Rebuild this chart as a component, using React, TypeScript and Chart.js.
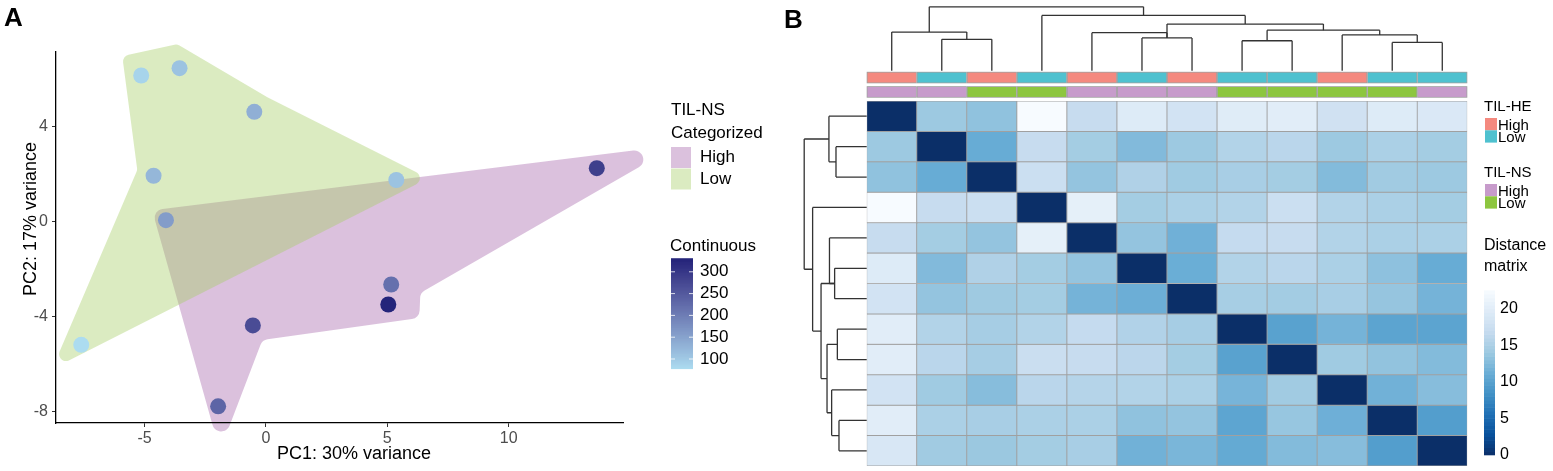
import React, { useEffect, useRef } from "react";
import { Chart, registerables } from "chart.js";
Chart.register(...registerables);

const FONT = "'Liberation Sans', Arial, Helvetica, sans-serif";

// ---------------- Panel A data ----------------
const PC1 = [-5.14, -3.56, -0.48, -4.63, 5.37, -4.12, 5.16, 5.04, -0.54, -7.61, -1.97, 13.63];
const PC2 = [6.13, 6.44, 4.6, 1.91, 1.73, 0.04, -2.67, -3.51, -4.39, -5.21, -7.8, 2.23];
const TIL_CONT = [88, 110, 135, 125, 110, 160, 220, 330, 270, 78, 235, 290];
const X_TICKS = [-5, 0, 5, 10];
const Y_TICKS = [-8, -4, 0, 4];
const CONT_TICKS = [100, 150, 200, 250, 300];
const CATEGORIES = ["High", "Low"];
const HULL_HIGH_X = [-4.69, 16.95, 6.36, 6.32, -0.15, -1.9];
const HULL_HIGH_Y = [0.46, 3.2, -3.03, -4.08, -5.01, -9.68];
const HULL_LOW_X = [-5.92, -3.66, 0.05, 6.69, -8.81, -5.3];
const HULL_LOW_Y = [6.95, 7.45, 5.22, 1.81, -6.23, 2.15];

// ---------------- Panel B data ----------------
const SAMPLES = ["S1", "S2", "S3", "S4", "S5", "S6", "S7", "S8", "S9", "S10", "S11", "S12"];
const TIL_HE = ["High", "Low", "High", "Low", "High", "Low", "High", "Low", "Low", "High", "Low", "Low"];
const TIL_NS = ["High", "High", "Low", "Low", "High", "High", "High", "Low", "Low", "Low", "Low", "High"];
const DISTANCE = [
  [0, 14, 13.3, 22.5, 17, 19.6, 18.3, 19.8, 20, 18, 19.6, 19.2],
  [14, 0, 11, 17, 14.5, 12.5, 14, 15.5, 16, 14, 15, 14.5],
  [13.3, 11, 0, 17.5, 13.5, 15.3, 14.2, 14.8, 14.5, 12.6, 14.3, 14],
  [22.5, 17, 17.5, 0, 20.5, 14.5, 15, 15.5, 17.5, 15.5, 15, 14.5],
  [17, 14.5, 13.5, 20.5, 0, 13.5, 11.5, 16.8, 17, 15.5, 15, 15],
  [19.6, 12.5, 15.3, 14.5, 13.5, 0, 11.2, 15.5, 16, 15, 13.2, 11],
  [18.3, 13.5, 14.1, 14.5, 11.8, 11.3, 0, 14.7, 14.4, 14.8, 13.6, 11.8],
  [20, 15.5, 14.6, 15.5, 16.8, 15.4, 14.6, 0, 10, 11.8, 10.2, 10.2],
  [20, 16, 14.6, 17.4, 17, 16.1, 14.5, 10, 0, 14.2, 13.4, 12.6],
  [18.3, 14.2, 12.8, 16, 15.7, 15.5, 15, 11.9, 14.3, 0, 11.6, 12.8],
  [20, 15, 14.8, 15, 15, 13.3, 13.5, 10.3, 13.7, 11.4, 0, 9.6],
  [19, 14.3, 13.9, 14.5, 14.8, 11.6, 12.1, 10.8, 12.6, 12.8, 9.6, 0],
];
// hclust-style merges: negative = leaf (1-based), positive = earlier merge (1-based)
const MERGE_LEFT = [-2, -1, -6, -5, -8, -11, -10, 5, 3, -4, 2];
const MERGE_RIGHT = [-3, 1, -7, 3, -9, -12, 6, 7, 8, 9, 10];
const MERGE_HEIGHT = [11.3, 13.9, 11.8, 13.7, 10.8, 10.2, 12.9, 14.6, 16.8, 19.9, 23.0];
const DIST_TICKS = [0, 5, 10, 15, 20];
const DIST_MAX = 22.5;

// ---------------- colours ----------------
const BLUES = ["#0B2F68", "#08519C", "#2171B5", "#4292C6", "#6BAED6", "#9ECAE1", "#C6DBEF", "#DEEBF7", "#F7FBFF"];
const HE_COLORS: Record<string, string> = { High: "#F4897F", Low: "#4FC1CF" };
const NS_COLORS: Record<string, string> = { High: "#C79BCB", Low: "#8DC63F" };
const HULL_COLORS: Record<string, string> = { High: "rgba(165,100,170,0.4)", Low: "rgba(165,205,100,0.4)" };
const CONT_LOW = [172, 220, 240];
const CONT_HIGH = [36, 36, 122];

function hexToRgb(h: string) {
  const n = parseInt(h.slice(1), 16);
  return [(n >> 16) & 255, (n >> 8) & 255, n & 255];
}
function distColor(v: number) {
  const t = Math.max(0, Math.min(1, v / DIST_MAX)) * (BLUES.length - 1);
  const i = Math.min(BLUES.length - 2, Math.floor(t));
  const f = t - i;
  const a = hexToRgb(BLUES[i]);
  const b = hexToRgb(BLUES[i + 1]);
  const c = a.map((x, k) => Math.round(x + (b[k] - x) * f));
  return `rgb(${c[0]},${c[1]},${c[2]})`;
}
function s2l(c: number) {
  c /= 255;
  return c <= 0.04045 ? c / 12.92 : Math.pow((c + 0.055) / 1.055, 2.4);
}
function l2s(c: number) {
  const v = c <= 0.0031308 ? 12.92 * c : 1.055 * Math.pow(c, 1 / 2.4) - 0.055;
  return Math.round(Math.max(0, Math.min(1, v)) * 255);
}
function rgb2lab(rgb: number[]) {
  const R = s2l(rgb[0]), G = s2l(rgb[1]), B = s2l(rgb[2]);
  const X = (0.4124 * R + 0.3576 * G + 0.1805 * B) / 0.95047;
  const Y = 0.2126 * R + 0.7152 * G + 0.0722 * B;
  const Z = (0.0193 * R + 0.1192 * G + 0.9505 * B) / 1.08883;
  const f = (t: number) => (t > 0.008856 ? Math.cbrt(t) : 7.787 * t + 16 / 116);
  return [116 * f(Y) - 16, 500 * (f(X) - f(Y)), 200 * (f(Y) - f(Z))];
}
function lab2rgb(lab: number[]) {
  const fy = (lab[0] + 16) / 116, fx = fy + lab[1] / 500, fz = fy - lab[2] / 200;
  const fi = (t: number) => (t * t * t > 0.008856 ? t * t * t : (t - 16 / 116) / 7.787);
  const X = fi(fx) * 0.95047, Y = fi(fy), Z = fi(fz) * 1.08883;
  const R = 3.2406 * X - 1.5372 * Y - 0.4986 * Z;
  const G = -0.9689 * X + 1.8758 * Y + 0.0415 * Z;
  const B = 0.0557 * X - 0.204 * Y + 1.057 * Z;
  return [l2s(R), l2s(G), l2s(B)];
}
const CONT_MIN = Math.min(...TIL_CONT);
const CONT_MAX = Math.max(...TIL_CONT);
function contColor(v: number) {
  const t = (v - CONT_MIN) / (CONT_MAX - CONT_MIN);
  const a = rgb2lab(CONT_LOW), b = rgb2lab(CONT_HIGH);
  const c = lab2rgb(a.map((x, k) => x + (b[k] - x) * t));
  return `rgb(${c[0]},${c[1]},${c[2]})`;
}

// ---------------- helpers ----------------
function drawHull(ctx: CanvasRenderingContext2D, xs: number[], ys: number[], sx: any, sy: any, color: string, r: number) {
  const pts = xs.map((v, i) => ({ x: sx.getPixelForValue(v), y: sy.getPixelForValue(ys[i]) }));
  const n = pts.length;
  const mid = (a: any, b: any) => ({ x: (a.x + b.x) / 2, y: (a.y + b.y) / 2 });
  const s = mid(pts[n - 1], pts[0]);
  ctx.save();
  ctx.beginPath();
  ctx.moveTo(s.x, s.y);
  for (let i = 0; i < n; i++) {
    const p = pts[i];
    const m = mid(p, pts[(i + 1) % n]);
    ctx.arcTo(p.x, p.y, m.x, m.y, r);
  }
  ctx.closePath();
  ctx.fillStyle = color;
  ctx.fill();
  ctx.restore();
}

function dendroSegments(leafPos: (i: number) => number) {
  const pos: number[] = [];
  const segs: { kids: { p: number; h: number }[]; h: number }[] = [];
  for (let m = 0; m < MERGE_LEFT.length; m++) {
    const kids = [MERGE_LEFT[m], MERGE_RIGHT[m]].map((c) =>
      c < 0 ? { p: leafPos(-c - 1), h: 0 } : { p: pos[c - 1], h: MERGE_HEIGHT[c - 1] }
    );
    pos[m] = (kids[0].p + kids[1].p) / 2;
    segs.push({ kids, h: MERGE_HEIGHT[m] });
  }
  return segs;
}

const panelAPlugin = {
  id: "panelA",
  beforeDraw(chart: any) {
    const { ctx, scales } = chart;
    drawHull(ctx, HULL_HIGH_X, HULL_HIGH_Y, scales.x, scales.y, HULL_COLORS.High, 9);
    drawHull(ctx, HULL_LOW_X, HULL_LOW_Y, scales.x, scales.y, HULL_COLORS.Low, 7);
  },
  afterDraw(chart: any) {
    const ctx: CanvasRenderingContext2D = chart.ctx;
    ctx.save();
    ctx.fillStyle = "#000";
    ctx.textBaseline = "middle";
    // axis titles
    ctx.font = `18px ${FONT}`;
    ctx.textAlign = "center";
    ctx.fillText("PC1: 30% variance", 354, 454);
    ctx.save();
    ctx.translate(31, 219);
    ctx.rotate(-Math.PI / 2);
    ctx.fillText("PC2: 17% variance", 0, 0);
    ctx.restore();
    // panel label
    ctx.font = `bold 26px ${FONT}`;
    ctx.textAlign = "left";
    ctx.textBaseline = "alphabetic";
    ctx.fillText("A", 4, 26);
    // categorical legend
    ctx.textBaseline = "middle";
    ctx.font = `17px ${FONT}`;
    ctx.fillText("TIL-NS", 671, 110);
    ctx.fillText("Categorized", 671, 133);
    CATEGORIES.forEach((c, i) => {
      const top = 147 + i * 21.5;
      ctx.fillStyle = HULL_COLORS[c];
      ctx.fillRect(671, top, 20, 21);
      ctx.fillStyle = "#000";
      ctx.fillText(c, 700, top + 10.5);
    });
    // continuous legend
    ctx.fillText("Continuous", 670, 246);
    const yOf = (v: number) => 359 - (v - 100) * 0.436;
    const y0 = yOf(CONT_MIN), y1 = yOf(CONT_MAX);
    const steps = 80;
    for (let k = 0; k < steps; k++) {
      const v = CONT_MIN + ((CONT_MAX - CONT_MIN) * (k + 0.5)) / steps;
      const ya = y0 + ((y1 - y0) * k) / steps;
      const yb = y0 + ((y1 - y0) * (k + 1)) / steps;
      ctx.fillStyle = contColor(v);
      ctx.fillRect(671, Math.min(ya, yb) - 0.5, 22, Math.abs(yb - ya) + 1);
    }
    ctx.strokeStyle = "rgba(255,255,255,0.8)";
    ctx.lineWidth = 1;
    CONT_TICKS.forEach((t) => {
      const yy = yOf(t);
      ctx.beginPath();
      ctx.moveTo(671, yy);
      ctx.lineTo(675, yy);
      ctx.moveTo(689, yy);
      ctx.lineTo(693, yy);
      ctx.stroke();
      ctx.fillStyle = "#000";
      ctx.fillText(String(t), 700, yy);
    });
    ctx.restore();
  },
};

const panelBPlugin = {
  id: "panelB",
  afterDraw(chart: any) {
    const ctx: CanvasRenderingContext2D = chart.ctx;
    const { chartArea, scales } = chart;
    const xs = scales.x, ys = scales.y;
    const cw = xs.getPixelForValue(1) - xs.getPixelForValue(0);
    ctx.save();
    // annotation rows
    const annH = 11.5;
    const ann2Top = chartArea.top - 3.3 - annH;
    const ann1Top = ann2Top - 2.9 - annH;
    SAMPLES.forEach((_, i) => {
      const cx = xs.getPixelForValue(i);
      [[ann1Top, HE_COLORS[TIL_HE[i]]], [ann2Top, NS_COLORS[TIL_NS[i]]]].forEach(([top, col]: any) => {
        ctx.fillStyle = "#a0a0a0";
        ctx.fillRect(cx - cw / 2, top, cw, annH);
        ctx.fillStyle = col;
        ctx.fillRect(cx - cw / 2 + 0.8, top + 0.8, cw - 1.6, annH - 1.6);
      });
    });
    // dendrograms
    const maxH = Math.max(...MERGE_HEIGHT);
    ctx.strokeStyle = "#333";
    ctx.lineWidth = 1.3;
    const colBase = ann1Top - 1;
    const kc = 64 / maxH;
    dendroSegments((i) => xs.getPixelForValue(i)).forEach((s) => {
      const yy = colBase - s.h * kc;
      ctx.beginPath();
      s.kids.forEach((k) => {
        ctx.moveTo(k.p, colBase - k.h * kc);
        ctx.lineTo(k.p, yy);
      });
      ctx.moveTo(s.kids[0].p, yy);
      ctx.lineTo(s.kids[1].p, yy);
      ctx.stroke();
    });
    const rowBase = chartArea.left;
    const kr = 62.5 / maxH;
    dendroSegments((i) => ys.getPixelForValue(i + 0.5)).forEach((s) => {
      const xx = rowBase - s.h * kr;
      ctx.beginPath();
      s.kids.forEach((k) => {
        ctx.moveTo(rowBase - k.h * kr, k.p);
        ctx.lineTo(xx, k.p);
      });
      ctx.moveTo(xx, s.kids[0].p);
      ctx.lineTo(xx, s.kids[1].p);
      ctx.stroke();
    });
    // panel label
    ctx.fillStyle = "#000";
    ctx.font = `bold 26px ${FONT}`;
    ctx.textAlign = "left";
    ctx.textBaseline = "alphabetic";
    ctx.fillText("B", 4, 28);
    // legends
    const lx = 1484 - 780;
    ctx.font = `15px ${FONT}`;
    const drawCat = (title: string, ty: number, colors: Record<string, string>) => {
      ctx.fillStyle = "#000";
      ctx.textBaseline = "middle";
      ctx.fillText(title, lx, ty);
      ctx.textBaseline = "alphabetic";
      CATEGORIES.forEach((c, i) => {
        const top = ty + 11 + i * 12.3;
        ctx.fillStyle = colors[c];
        ctx.fillRect(lx + 1, top, 12, 12.3);
        ctx.fillStyle = "#000";
        ctx.fillText(c, lx + 14, top + 11.8);
      });
    };
    drawCat("TIL-HE", 107, HE_COLORS);
    drawCat("TIL-NS", 173, NS_COLORS);
    ctx.fillStyle = "#000";
    ctx.textBaseline = "middle";
    ctx.font = `16px ${FONT}`;
    ctx.fillText("Distance", lx, 246);
    ctx.fillText("matrix", lx, 267);
    const dy = (v: number) => 455 - v * 7.3;
    const steps = 45;
    for (let k = 0; k < steps; k++) {
      const v0 = (DIST_MAX * k) / steps, v1 = (DIST_MAX * (k + 1)) / steps;
      ctx.fillStyle = distColor((v0 + v1) / 2);
      ctx.fillRect(lx, dy(v1) - 0.3, 11, dy(v0) - dy(v1) + 0.6);
    }
    ctx.fillStyle = "#000";
    DIST_TICKS.forEach((t) => ctx.fillText(String(t), lx + 16, dy(t)));
    ctx.restore();
  },
};

export default function App() {
  const refA = useRef<HTMLCanvasElement>(null);
  const refB = useRef<HTMLCanvasElement>(null);
  useEffect(() => {
    const tickFont = { family: FONT, size: 16 };
    const chartA = new Chart(refA.current as HTMLCanvasElement, {
      type: "scatter",
      data: {
        datasets: [
          {
            data: PC1.map((x, i) => ({ x, y: PC2[i] })),
            backgroundColor: TIL_CONT.map(contColor),
            borderWidth: 0,
            pointRadius: 8,
            pointHoverRadius: 8,
          },
        ],
      },
      options: {
        animation: false,
        responsive: false,
        events: [],
        plugins: { legend: { display: false }, tooltip: { enabled: false } },
        layout: { padding: { left: 0, top: 52, right: 157, bottom: 0 } },
        scales: {
          x: {
            type: "linear",
            min: -8.65,
            max: 14.71,
            afterBuildTicks: (s: any) => {
              s.ticks = X_TICKS.map((v) => ({ value: v }));
            },
            afterFit: (s: any) => {
              s.height = 48;
            },
            grid: { display: true, drawOnChartArea: false, drawTicks: true, tickLength: 4, color: "#333", lineWidth: 1 },
            border: { display: true, color: "#000", width: 1.3 },
            ticks: { font: tickFont, color: "#4d4d4d", padding: 2, maxRotation: 0 },
          },
          y: {
            type: "linear",
            min: -8.5,
            max: 7.12,
            afterBuildTicks: (s: any) => {
              s.ticks = Y_TICKS.map((v) => ({ value: v }));
            },
            afterFit: (s: any) => {
              s.width = 56;
            },
            grid: { display: true, drawOnChartArea: false, drawTicks: true, tickLength: 4, color: "#333", lineWidth: 1 },
            border: { display: true, color: "#000", width: 1.3 },
            ticks: { font: tickFont, color: "#4d4d4d", padding: 4 },
          },
        },
      },
      plugins: [panelAPlugin],
    } as any);

    const chartB = new Chart(refB.current as HTMLCanvasElement, {
      type: "bar",
      data: {
        labels: SAMPLES,
        datasets: DISTANCE.map((row, i) => ({
          label: SAMPLES[i],
          data: row.map(() => 1),
          backgroundColor: row.map(distColor),
          borderColor: "#a0a0a0",
          borderWidth: 0.8,
          borderSkipped: false,
          barPercentage: 1,
          categoryPercentage: 1,
        })),
      },
      options: {
        animation: false,
        responsive: false,
        events: [],
        plugins: { legend: { display: false }, tooltip: { enabled: false } },
        layout: { padding: { left: 86.7, top: 101, right: 85.7, bottom: 5 } },
        scales: {
          x: { display: false, stacked: true },
          y: { display: false, stacked: true, reverse: true, min: 0, max: 12 },
        },
      },
      plugins: [panelBPlugin],
    } as any);
    return () => {
      chartA.destroy();
      chartB.destroy();
    };
  }, []);
  return (
    <div style={{ position: "fixed", left: 0, top: 0, width: 1553, height: 471, background: "#fff", overflow: "hidden" }}>
      <canvas ref={refA} width={780} height={471} style={{ position: "absolute", left: 0, top: 0, width: 780, height: 471 }} />
      <canvas ref={refB} width={773} height={471} style={{ position: "absolute", left: 780, top: 0, width: 773, height: 471 }} />
    </div>
  );
}
